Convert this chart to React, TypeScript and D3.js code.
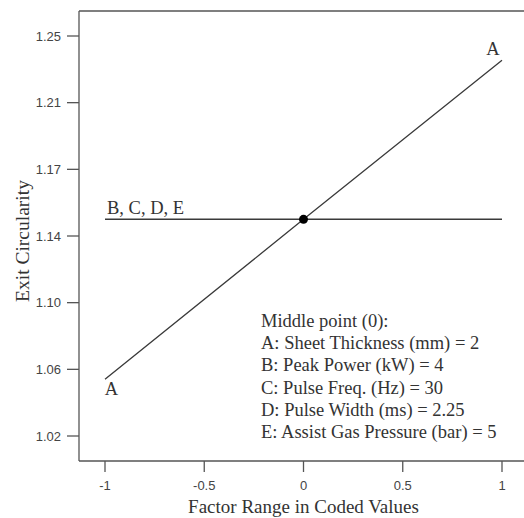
import React from "react";
import * as d3 from "d3";

const W = 524;
const H = 518;

// Factor A (Sheet Thickness) effect line
const factorACoded = [-1, 0, 1];
const factorAValues = [1.049, 1.145, 1.2405];
// Factors B, C, D, E (flat effect)
const factorBCDECoded = [-1, 0, 1];
const factorBCDEValues = [1.145, 1.145, 1.145];
// Middle point
const middlePoint = { x: 0, y: 1.145 };

const xTickValues = [-1, -0.5, 0, 0.5, 1];
const xTickLabels = ["-1", "-0.5", "0", "0.5", "1"];
const yTickValues = [1.015, 1.055, 1.095, 1.135, 1.175, 1.215, 1.255];
const yTickLabels = ["1.02", "1.06", "1.10", "1.14", "1.17", "1.21", "1.25"];

const legendLines = [
  "Middle point (0):",
  "A: Sheet Thickness (mm) = 2",
  "B: Peak Power (kW) = 4",
  "C: Pulse Freq. (Hz) = 30",
  "D: Pulse Width (ms) = 2.25",
  "E: Assist Gas Pressure (bar) = 5",
];

export default function App() {
  const left = 79;
  const right = 524;
  const top = 11;
  const bottom = 461;
  const x = d3.scaleLinear().domain([-1, 1]).range([105, 502]);
  const y = d3.scaleLinear().domain([1.0, 1.27]).range([bottom, top]);
  const line = d3
    .line<[number, number]>()
    .x((d) => x(d[0]))
    .y((d) => y(d[1]));
  const aPts = factorACoded.map((c, i) => [c, factorAValues[i]] as [number, number]);
  const bPts = factorBCDECoded.map((c, i) => [c, factorBCDEValues[i]] as [number, number]);
  const serif = "'Liberation Serif', 'Times New Roman', serif";
  const sans = "'Liberation Sans', Arial, sans-serif";
  const stroke = "#3a3a3a";
  return (
    <svg
      width={W}
      height={H}
      style={{ position: "absolute", left: 0, top: 0, background: "#fff" }}
    >
      <rect x={0} y={0} width={W} height={H} fill="#fff" />
      {/* frame */}
      <line x1={left} y1={top} x2={right} y2={top} stroke="#555" strokeWidth={1.3} />
      <line x1={left} y1={top} x2={left} y2={bottom} stroke="#555" strokeWidth={1.3} />
      <line x1={left} y1={bottom} x2={right} y2={bottom} stroke="#555" strokeWidth={1.3} />
      {/* y ticks */}
      {yTickValues.map((v, i) => (
        <g key={"y" + i}>
          <line x1={left - 12} x2={left} y1={y(v)} y2={y(v)} stroke="#555" strokeWidth={1.3} />
          <text
            x={left - 18}
            y={y(v)}
            dy="0.36em"
            textAnchor="end"
            fontFamily={sans}
            fontSize={13}
            fill="#444"
          >
            {yTickLabels[i]}
          </text>
        </g>
      ))}
      {/* x ticks */}
      {xTickValues.map((v, i) => (
        <g key={"x" + i}>
          <line x1={x(v)} x2={x(v)} y1={bottom} y2={bottom + 11} stroke="#555" strokeWidth={1.3} />
          <text
            x={x(v)}
            y={490}
            textAnchor="middle"
            fontFamily={sans}
            fontSize={13}
            fill="#444"
          >
            {xTickLabels[i]}
          </text>
        </g>
      ))}
      {/* axis titles */}
      <text
        x={x(0)}
        y={513}
        textAnchor="middle"
        fontFamily={serif}
        fontSize={19}
        fill="#333"
      >
        Factor Range in Coded Values
      </text>
      <text
        transform={`translate(29, 241) rotate(-90)`}
        textAnchor="middle"
        fontFamily={serif}
        fontSize={19.5}
        fill="#333"
      >
        Exit Circularity
      </text>
      {/* lines */}
      <path d={line(bPts) || ""} fill="none" stroke={stroke} strokeWidth={1.5} />
      <path d={line(aPts) || ""} fill="none" stroke={stroke} strokeWidth={1.3} />
      <circle cx={x(middlePoint.x)} cy={y(middlePoint.y)} r={4.5} fill="#000" />
      {/* line labels */}
      <text x={x(1) - 9} y={55} textAnchor="middle" fontFamily={serif} fontSize={18.5} fill="#333">
        A
      </text>
      <text x={x(-1) + 6.5} y={395} textAnchor="middle" fontFamily={serif} fontSize={18.5} fill="#333">
        A
      </text>
      <text x={x(-1) + 2} y={y(middlePoint.y) - 5} fontFamily={serif} fontSize={18.5} fill="#333">
        B, C, D, E
      </text>
      {/* legend */}
      {legendLines.map((t, i) => (
        <text
          key={"l" + i}
          x={261}
          y={327 + i * 22.2}
          fontFamily={serif}
          fontSize={18.5}
          fill="#333"
        >
          {t}
        </text>
      ))}
    </svg>
  );
}
